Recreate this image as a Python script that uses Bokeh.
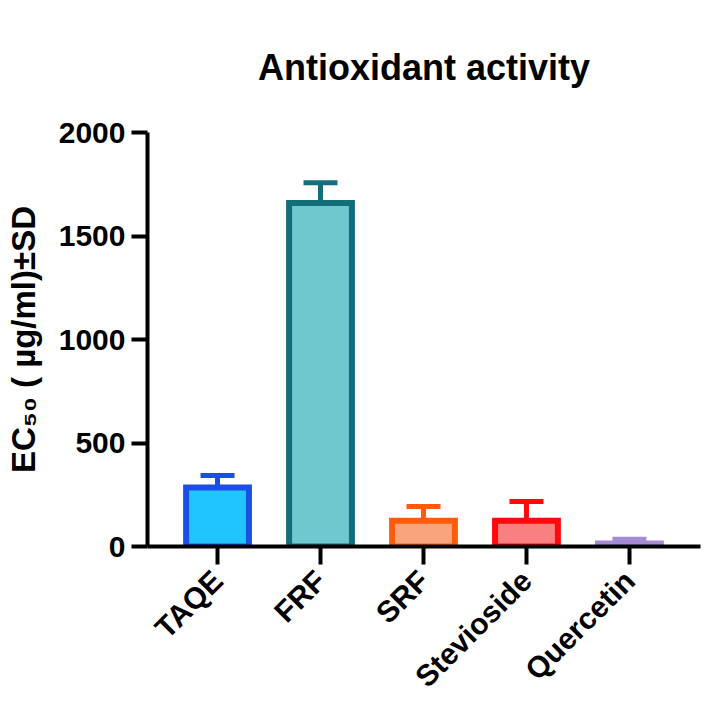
from bokeh.plotting import figure
from bokeh.models import Range1d, FixedTicker, ColumnDataSource
from bokeh.embed import file_html
from bokeh.resources import INLINE

# Data
categories = ["TAQE", "FRF", "SRF", "Stevioside", "Quercetin"]
means = [285, 1660, 125, 125, 15]
sds = [58, 97, 68, 92, 20]
fill_colors = ["#20C5FF", "#70C8CF", "#F9A47C", "#F88080", "#A58BD6"]
line_colors = ["#1A4FE6", "#146E7A", "#FF5B0A", "#FF0A0A", "#A58BD6"]
y_ticks = [0, 500, 1000, 1500, 2000]

xs = list(range(len(categories)))
src = ColumnDataSource(dict(
    x=xs, top=means, upper=[m + s for m, s in zip(means, sds)],
    cap_l=[x - 0.165 for x in xs], cap_r=[x + 0.165 for x in xs],
    fill=fill_colors, line=line_colors,
))

FONT = "Liberation Sans"

p = figure(width=708, height=708, output_backend="svg", toolbar_location=None,
           x_range=Range1d(-0.68, 4.69), y_range=Range1d(0, 2000),
           min_border_left=147, min_border_right=8, min_border_top=132,
           min_border_bottom=162, title="Antioxidant activity")
p.outline_line_color = None
p.xgrid.visible = False
p.ygrid.visible = False
p.background_fill_color = "white"
p.border_fill_color = "white"

p.title.align = "center"
p.title.vertical_align = "top"
p.title.text_font = FONT
p.title.text_font_style = "bold"
p.title.text_font_size = "36px"
p.title.text_color = "black"
p.title.standoff = 85

# error bars (upper only)
p.segment(x0="x", y0="top", x1="x", y1="upper", source=src, line_color="line", line_width=5)
p.segment(x0="cap_l", y0="upper", x1="cap_r", y1="upper", source=src, line_color="line", line_width=5)

# bars
p.vbar(x="x", top="top", bottom=0, width=0.61, source=src, fill_color="fill",
       line_color="line", line_width=6, line_join="miter")

# axes
for ax in (p.xaxis, p.yaxis):
    ax.axis_line_width = 4
    ax.axis_line_color = "black"
    ax.major_tick_line_width = 4
    ax.major_tick_line_color = "black"
    ax.major_tick_in = 0
    ax.minor_tick_line_color = None
    ax.major_label_text_font = FONT
    ax.major_label_text_font_style = "bold"
    ax.major_label_text_color = "black"
    ax.major_label_text_font_size = "30px"

p.yaxis.major_tick_out = 16
p.xaxis.major_tick_out = 18
p.yaxis.ticker = FixedTicker(ticks=y_ticks)
p.yaxis.major_label_standoff = 6
p.xaxis.ticker = FixedTicker(ticks=xs)
p.xaxis.major_label_overrides = {i: c for i, c in enumerate(categories)}
p.xaxis.major_label_orientation = 0.785398
p.xaxis.major_label_standoff = 11

p.yaxis.axis_label = "EC\u2085\u2080 ( \u00b5g/ml)\u00b1SD"
p.yaxis.axis_label_text_font = FONT
p.yaxis.axis_label_text_font_style = "bold"
p.yaxis.axis_label_text_font_size = "33px"
p.yaxis.axis_label_text_color = "black"
p.yaxis.axis_label_standoff = 14

open("out.html", "w").write(file_html(p, INLINE))
